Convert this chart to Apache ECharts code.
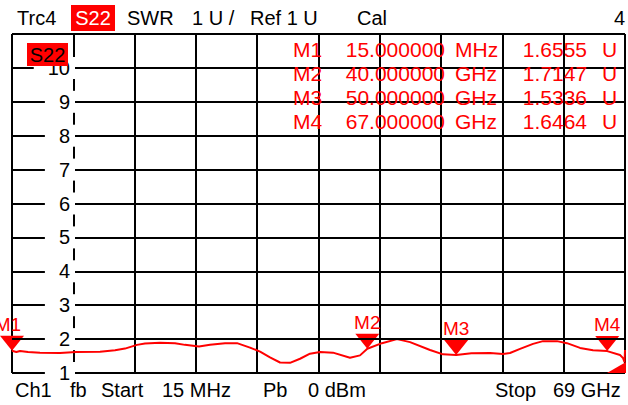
<!DOCTYPE html>
<html>
<head>
<meta charset="utf-8">
<script src="https://cdn.jsdelivr.net/npm/echarts@6/dist/echarts.min.js"></script>
<style>
  html, body { margin: 0; padding: 0; background: #fff; }
  #chart { width: 628px; height: 405px; }
</style>
</head>
<body>
<div id="chart"></div>
<script>
// trace S22 (SWR), frequency in GHz
const freqGHz = [0.015, 0.5, 0.92, 1.82, 3.17, 5.42, 7.22, 9.92, 11.61, 12.73, 14.08, 14.98, 16.67, 18.36,
  19.48, 21.06, 22.3, 23.99, 25.34, 26.8, 27.93, 29.05, 30.18, 31.3, 32.43, 33.55, 34.68, 36.14, 38.05,
  39.18, 40.0, 41.65, 43.34, 44.81, 47.06, 48.52, 50.0, 51.71, 53.81, 55.27, 56.06, 57.19, 58.65, 59.77,
  61.35, 62.47, 63.94, 65.4, 67.0, 68.44, 68.78, 68.95, 69.0]
const swr = [1.6555, 1.62, 1.65, 1.62, 1.6, 1.59, 1.62, 1.63, 1.67, 1.72, 1.83, 1.87, 1.89, 1.88,
  1.83, 1.78, 1.83, 1.88, 1.88, 1.75, 1.63, 1.46, 1.31, 1.3, 1.42, 1.57, 1.62, 1.6, 1.45,
  1.52, 1.7147, 1.88, 2.0, 1.91, 1.68, 1.55, 1.5336, 1.58, 1.59, 1.56, 1.59, 1.71, 1.86, 1.94,
  1.94, 1.88, 1.74, 1.67, 1.6464, 1.53, 1.44, 1.32, 1.68]

// markers
const markerNames = ['M1', 'M2', 'M3', 'M4']
const markerFreq = [0.015, 40, 50, 67]
const markerFreqText = ['15.000000', '40.000000', '50.000000', '67.000000']
const markerFreqUnit = ['MHz', 'GHz', 'GHz', 'GHz']
const markerValues = [1.6555, 1.7147, 1.5336, 1.6464]

const yTicks = [1, 11]
const startFreq = 0.015
const stopFreq = 69

const RED = '#ff0000'
const FONT = 'Liberation Sans, Arial, sans-serif'

const chart = echarts.init(document.getElementById('chart'), null, { renderer: 'svg' })

const txt = (x, y, text, opt = {}) => ({
  type: 'text',
  x, y, z: 100,
  style: Object.assign({
    text,
    fill: '#000',
    font: '20px ' + FONT,
    textVerticalAlign: 'middle',
    textAlign: 'left',
  }, opt),
})

const graphics = [
  txt(17, 18, 'Trc4'),
  { type: 'rect', z: 99, shape: { x: 71, y: 5, width: 44, height: 26 }, style: { fill: RED } },
  txt(93, 18, 'S22', { fill: '#fff', textAlign: 'center' }),
  txt(127, 18, 'SWR'),
  txt(192, 18, '1 U /'),
  txt(250, 18, 'Ref 1 U'),
  txt(357, 18, 'Cal'),
  txt(625, 18, '4', { textAlign: 'right' }),
  { type: 'rect', z: 99, shape: { x: 27, y: 43, width: 41, height: 23 }, style: { fill: RED } },
  txt(47.5, 55, 'S22', { textAlign: 'center' }),
  txt(15, 390, 'Ch1'),
  txt(70, 390, 'fb'),
  txt(101, 390, 'Start'),
  txt(162, 390, '15 MHz'),
  txt(263, 390, 'Pb'),
  txt(308, 390, '0 dBm'),
  txt(495, 390, 'Stop'),
  txt(553, 390, '69 GHz'),
  { type: 'polygon', z: 99, shape: { points: [[607, 373], [626, 362], [626, 373]] }, style: { fill: RED } },
]

markerNames.forEach((m, i) => {
  const y = 49 + i * 24.3
  const f = { fill: RED, font: '21px ' + FONT }
  graphics.push(txt(293, y, m, f))
  graphics.push(txt(445, y, markerFreqText[i], Object.assign({ textAlign: 'right' }, f)))
  graphics.push(txt(455, y, markerFreqUnit[i], f))
  graphics.push(txt(587, y, markerValues[i].toFixed(4), Object.assign({ textAlign: 'right' }, f)))
  graphics.push(txt(602, y, 'U', f))
})

chart.setOption({
  animation: false,
  grid: { left: 12, right: 3, top: 34, bottom: 32 },
  xAxis: [
    { type: 'value', min: startFreq, max: stopFreq, show: false },
    {
      type: 'value', min: 0, max: 10, interval: 1,
      axisLine: { show: false }, axisTick: { show: false }, axisLabel: { show: false },
      splitLine: { show: true, lineStyle: { color: '#000', width: 2 } },
    },
  ],
  yAxis: {
    type: 'value', min: yTicks[0], max: yTicks[1], interval: 1,
    offset: -64, z: 5,
    axisLine: { show: false }, axisTick: { show: false },
    splitLine: { show: true, lineStyle: { color: '#000', width: 2 } },
    axisLabel: {
      showMaxLabel: false,
      margin: 1,
      color: '#000',
      fontSize: 20,
      fontFamily: FONT,
      backgroundColor: '#fff',
      padding: [1, 5, 1, 14],
    },
  },
  series: [
    {
      type: 'line',
      xAxisIndex: 0,
      data: freqGHz.map((f, i) => [f, swr[i]]),
      showSymbol: false,
      lineStyle: { color: RED, width: 2 },
      z: 3,
    },
    {
      type: 'scatter',
      xAxisIndex: 0,
      clip: false,
      symbol: 'triangle',
      symbolRotate: 180,
      symbolSize: [24, 15],
      symbolOffset: [0, -7.5],
      itemStyle: { color: RED, opacity: 1 },
      label: {
        show: true, position: 'top', distance: 2,
        color: RED, fontSize: 19, fontFamily: FONT,
        formatter: p => p.value[2],
      },
      data: markerNames.map((m, i) => ({
        value: [markerFreq[i], markerValues[i], m],
        label: i === 0 ? { offset: [-4, 0] } : {},
      })),
      z: 4,
    },
  ],
  graphic: graphics,
})
</script>
</body>
</html>
